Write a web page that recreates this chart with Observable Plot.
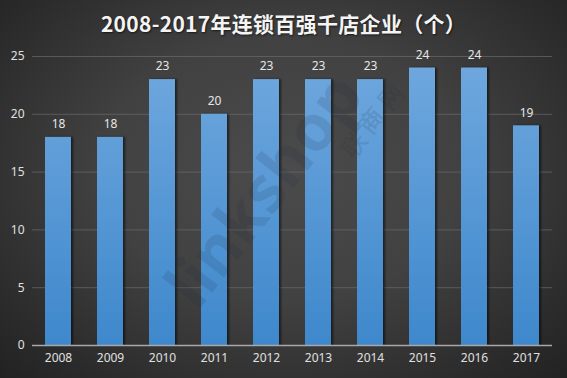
<!DOCTYPE html>
<html>
<head>
<meta charset="utf-8">
<script src="https://cdn.jsdelivr.net/npm/d3@7"></script>
<script src="https://cdn.jsdelivr.net/npm/@observablehq/plot@0.6"></script>
<style>
  html, body { margin: 0; padding: 0; }
  #wrap {
    width: 567px; height: 378px; position: relative; overflow: hidden;
    background: radial-gradient(ellipse at 50% 45%, #4b4b4b 0%, #414141 45%, #2a2a2a 85%, #222 100%);
    font-family: "Noto Sans CJK SC", "Noto Sans", sans-serif;
  }
  #title {
    height: 40px; line-height: 46px; text-align: center; color: #f4f4f4;
    font-size: 21px; font-weight: bold; letter-spacing: 0.3px;
    text-shadow: 1px 1px 2px rgba(0,0,0,0.6);
  }
  #chart svg { display: block; }
</style>
</head>
<body>
<div id="wrap">
  <div id="title">2008-2017年连锁百强千店企业（个）</div>
  <div id="chart"></div>
</div>
<script>
const years = ["2008","2009","2010","2011","2012","2013","2014","2015","2016","2017"];
const counts = [18, 18, 23, 20, 23, 23, 23, 24, 24, 19];
const yTicks = [0, 5, 10, 15, 20, 25];

const data = years.map((y, i) => ({year: y, value: counts[i]}));

const H = 338, MT = 16, MB = 33;

const defs = () => {
  const d = d3.create("svg:defs");
  const g = d.append("linearGradient").attr("id", "barGrad")
    .attr("gradientUnits", "userSpaceOnUse")
    .attr("x1", 0).attr("x2", 0).attr("y1", MT).attr("y2", H - MB);
  g.append("stop").attr("offset", "0%").attr("stop-color", "#70a8de");
  g.append("stop").attr("offset", "100%").attr("stop-color", "#3e88cc");
  const f = d.append("filter").attr("id", "shadow").attr("x", "-20%").attr("width", "150%");
  f.append("feDropShadow").attr("dx", 2).attr("dy", 0).attr("stdDeviation", 1.2)
    .attr("flood-color", "#000").attr("flood-opacity", 0.55);
  return d.node();
};

const chart = Plot.plot({
  width: 567,
  height: H,
  marginTop: MT,
  marginBottom: MB,
  marginLeft: 32,
  marginRight: 15,
  style: {background: "transparent", fontFamily: "'Noto Sans', 'DejaVu Sans', sans-serif", fontSize: "12px", color: "#ddd"},
  x: {domain: years, paddingInner: 0.5, paddingOuter: 0.25, label: null, tickSize: 0, tickPadding: 8},
  y: {domain: [0, 25], ticks: yTicks, label: null, tickSize: 0, tickPadding: 8},
  marks: [
    defs,
    Plot.gridY(yTicks.filter(t => t > 0), {stroke: "#6a6a6a", strokeOpacity: 0.7, strokeWidth: 1}),
    Plot.barY(data, {x: "year", y: "value", fill: "url(#barGrad)"}),
    Plot.text(["linkshop"], {frameAnchor: "middle", dx: -27, dy: -10, rotate: -52, text: d => d,
      fontSize: 64, fontWeight: "bold", fill: "#1a2a3a", fillOpacity: 0.13}),
    Plot.text(["联 商 网"], {frameAnchor: "middle", dx: 80, dy: -80, rotate: -52, text: d => d,
      fontSize: 24, fontWeight: "bold", fill: "#1a2a3a", fillOpacity: 0.13}),
    Plot.ruleY([0], {stroke: "#a8a8a8", strokeWidth: 1.5}),
    Plot.text(data, {x: "year", y: "value", text: d => String(d.value), dy: -13,
      fill: "#e6e6e6", fontSize: 12}),
    Plot.axisX({tickSize: 0, tickPadding: 8, fill: "#e0e0e0", fontSize: 12, label: null}),
    Plot.axisY({ticks: yTicks, tickSize: 0, tickPadding: 8, fill: "#e0e0e0", fontSize: 12, label: null})
  ]
});
d3.select(chart).selectAll("g[aria-label='bar'] rect").attr("filter", "url(#shadow)");
document.getElementById("chart").appendChild(chart);
</script>
</body>
</html>
